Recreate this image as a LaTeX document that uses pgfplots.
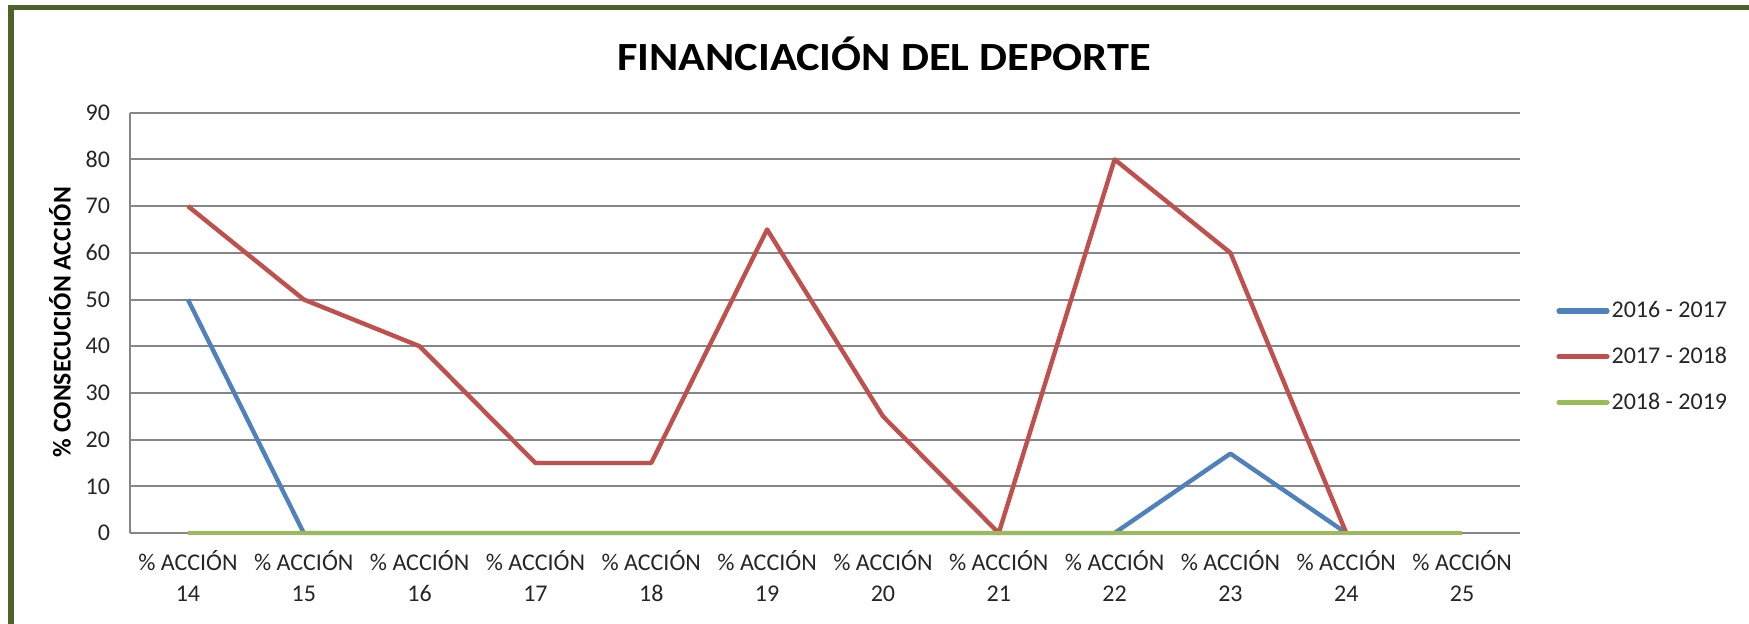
\documentclass[border=0pt]{standalone}
\usepackage{fontspec}
\setmainfont{Carlito}
\usepackage{pgfplots}
\pgfplotsset{compat=1.18}

\definecolor{serieA}{HTML}{4F81BD}
\definecolor{serieB}{HTML}{C0504D}
\definecolor{serieC}{HTML}{9BBB59}
\definecolor{rejilla}{HTML}{868686}
\definecolor{marco}{HTML}{4F6228}

\begin{document}
\begin{tikzpicture}
% page = 1749 x 623 px at 0.5pt per px, origin top-left
\path[use as bounding box, fill=white] (0pt,0pt) rectangle (874.5pt,-311.5pt);
\draw[marco, line width=2.6pt] (5.5pt,-330pt) -- (5.5pt,-3.9pt) -- (890pt,-3.9pt);

\node[anchor=base, xscale=1.11, font=\fontsize{20}{22}\selectfont\bfseries] at (442pt,-35pt)
  {FINANCIACIÓN DEL DEPORTE};
\node[rotate=90, font=\fontsize{12.8}{14}\selectfont\bfseries] at (30pt,-161pt)
  {\% CONSECUCIÓN ACCIÓN};

\begin{axis}[
    at={(65pt,-266.5pt)}, anchor=south west,
    scale only axis,
    width=695pt, height=210.15pt,
    xmin=13.5, xmax=25.5,
    ymin=0, ymax=90,
    xtick={14,15,16,17,18,19,20,21,22,23,24,25},
    xticklabels={{\% ACCIÓN\\14},{\% ACCIÓN\\15},{\% ACCIÓN\\16},{\% ACCIÓN\\17},
                 {\% ACCIÓN\\18},{\% ACCIÓN\\19},{\% ACCIÓN\\20},{\% ACCIÓN\\21},
                 {\% ACCIÓN\\22},{\% ACCIÓN\\23},{\% ACCIÓN\\24},{\% ACCIÓN\\25}},
    ytick={0,10,20,30,40,50,60,70,80,90},
    axis x line*=bottom,
    axis y line*=left,
    axis line style={draw=rejilla, line width=1pt, -},
    major tick length=0pt,
    ymajorgrids=true,
    grid style={rejilla, line width=1pt},
    tick label style={font=\fontsize{12}{15.7}\selectfont, text=black!85},
    xticklabel style={align=center, yshift=-5pt},
    yticklabel style={xshift=-6.5pt},
    /pgf/number format/assume math mode=true,
    clip=false,
    legend cell align=left,
    legend style={at={(1.0259,0.4195)}, anchor=west, draw=none, fill=none,
        font=\fontsize{12}{14}\selectfont, text=black!85,
        row sep=11.2pt, inner sep=0pt, nodes={inner sep=1pt}},
    legend image code/.code={\draw[#1, line width=2.6pt, line cap=round] (0pt,0pt) -- (24pt,0pt);},
    every axis plot/.append style={line width=2.2pt, line join=round},
]
\addplot[serieA] coordinates {
    (14,50)(15,0)(16,0)(17,0)(18,0)(19,0)(20,0)(21,0)(22,0)(23,17)(24,0)
};
\addlegendentry{2016 - 2017}
\addplot[serieB] coordinates {
    (14,70)(15,50)(16,40)(17,15)(18,15)(19,65)(20,25)(21,0)(22,80)(23,60)(24,0)
};
\addlegendentry{2017 - 2018}
\addplot[serieC] coordinates {
    (14,0)(15,0)(16,0)(17,0)(18,0)(19,0)(20,0)(21,0)(22,0)(23,0)(24,0)(25,0)
};
\addlegendentry{2018 - 2019}
\end{axis}
\end{tikzpicture}
\end{document}
